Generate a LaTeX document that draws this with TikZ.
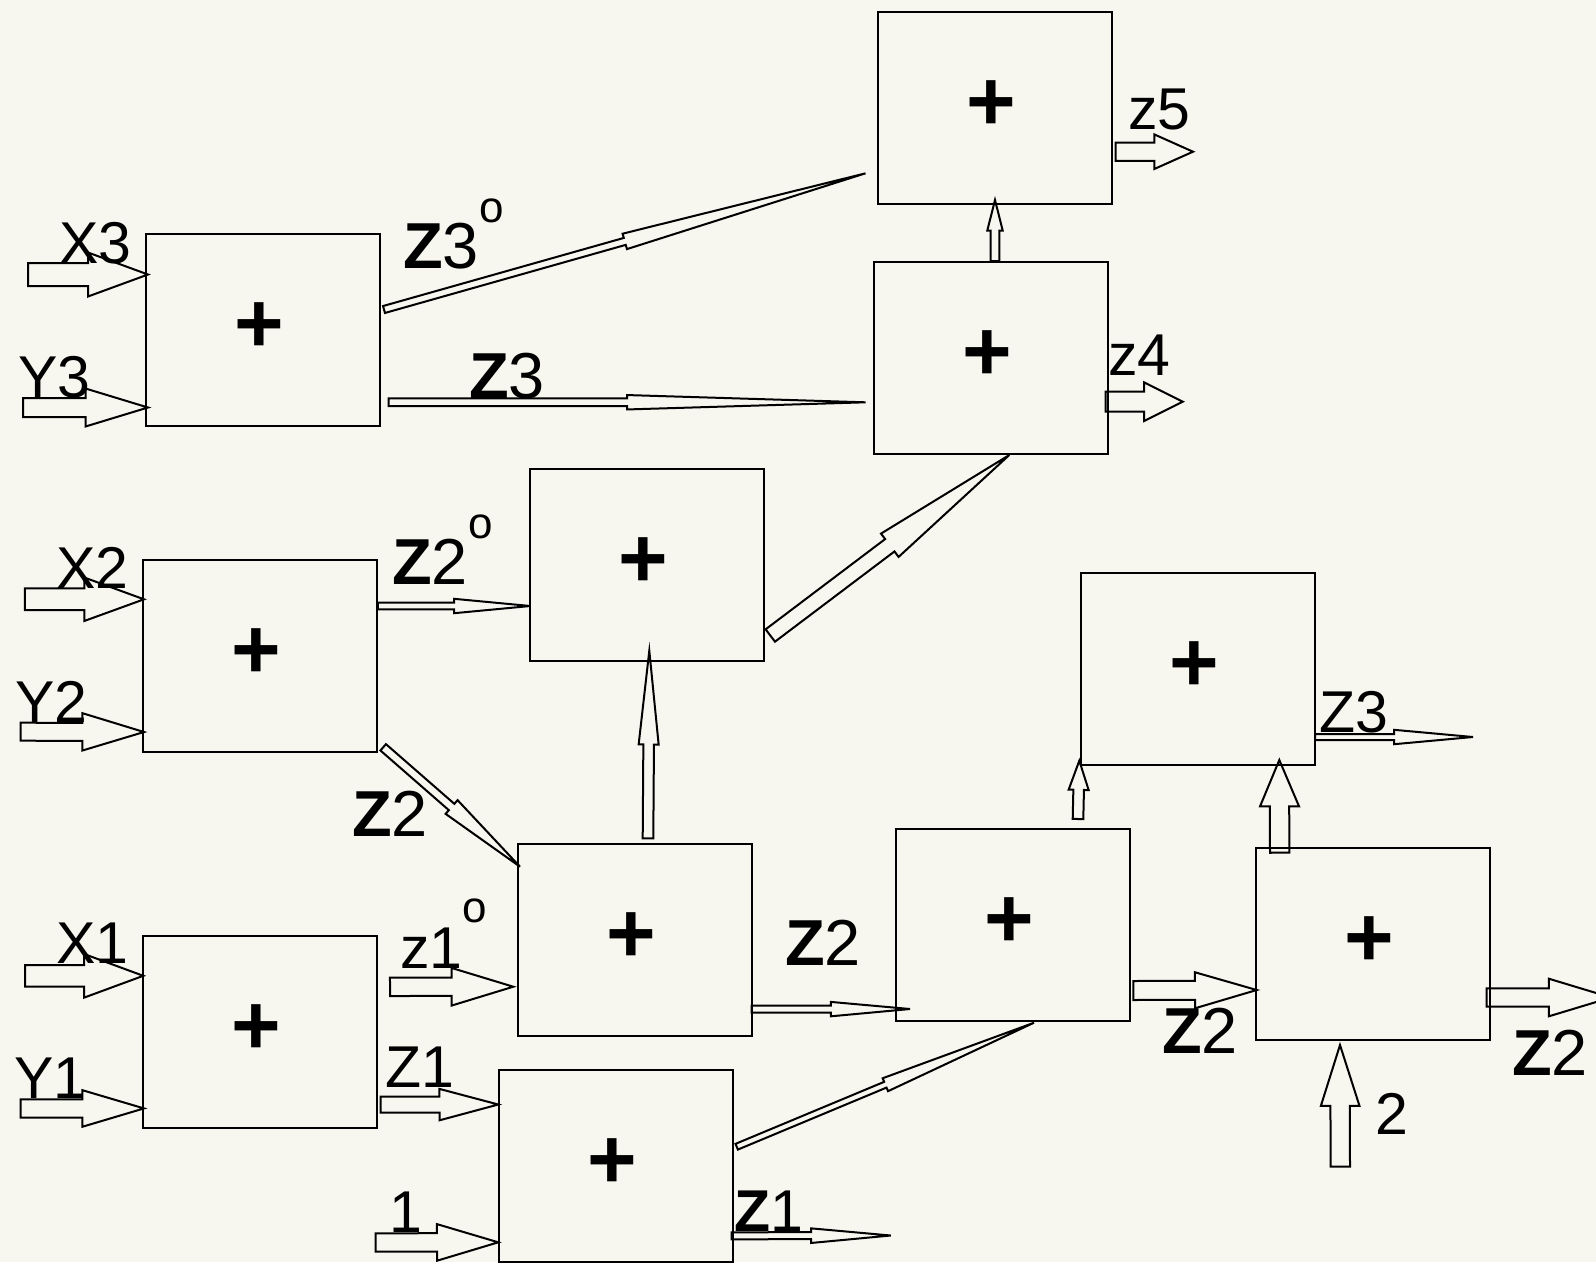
\documentclass[tikz,border=0pt]{standalone}
\usepackage{fontspec}
\setmainfont{Liberation Sans}
\usetikzlibrary{calc}

\definecolor{paper}{RGB}{247,247,240}

\tikzset{
  sumbox/.style={draw, line width=2pt, minimum width=234pt, minimum height=192pt,
    inner sep=0pt, anchor=north west},
  plus/.style={inner sep=0pt, font=\fontsize{85}{85}\selectfont\bfseries},
  blockarrow/.style={draw, line width=2pt},
  lab/.style={inner sep=0pt, anchor=base west, font=\fontsize{59}{60}\selectfont},
  zlab/.style={inner sep=0pt, anchor=base west, font=\fontsize{65}{66}\selectfont},
}

% hollow block arrow: tail, tip, shaft half-width, head half-width (head = half the length)
\newcommand\barrow[4]{%
  \path (#1) -- (#2) coordinate[pos=0.5] (bam);
  \draw[blockarrow]
    ($(#1)!#3pt!90:(#2)$) -- ($(bam)!#3pt!90:(#2)$) -- ($(bam)!#4pt!90:(#2)$)
    -- (#2) -- ($(bam)!#4pt!-90:(#2)$) -- ($(bam)!#3pt!-90:(#2)$)
    -- ($(#1)!#3pt!-90:(#2)$) -- cycle;
}
\newcommand\dego[1]{\raisebox{#1pt}{\fontsize{44}{44}\selectfont o}}

\begin{document}
\begin{tikzpicture}[x=1pt, y=-1pt]
\useasboundingbox (0,0) rectangle (1596,1262);
\clip (0,0) rectangle (1596,1262);
\fill[paper] (0,0) rectangle (1596,1262);

% adder blocks
\node[sumbox] (b1)  at (877,11)   {};
\node[sumbox] (b2)  at (873,261)  {};
\node[sumbox] (b3)  at (145,233)  {};
\node[sumbox] (b4)  at (529,468)  {};
\node[sumbox] (b5)  at (142,559)  {};
\node[sumbox] (b6)  at (1080,572) {};
\node[sumbox] (b7)  at (517,843)  {};
\node[sumbox] (b8)  at (895,828)  {};
\node[sumbox] (b9)  at (1255,847) {};
\node[sumbox] (b10) at (142,935)  {};
\node[sumbox] (b11) at (498,1069) {};
\foreach \b in {b1,b2,b3,b4,b5,b6,b7,b8,b9,b10,b11}
  \node[plus] (p\b) at ($(\b.center)+(-4,-2)$) {+};

% arrow end points
\coordinate (x3s) at (28,274.5);     \coordinate (x3e) at (148,274.5);
\coordinate (y3s) at (23,407.5);     \coordinate (y3e) at (148,407.5);
\coordinate (z3os) at (384,309.5);   \coordinate (z3oe) at (865.5,173.3);
\coordinate (z3s) at (388.6,402.2);  \coordinate (z3e) at (865.5,402.3);
\coordinate (up21s) at (995,261);    \coordinate (up21e) at (995,200);
\coordinate (z4s) at (1105.7,401.7); \coordinate (z4e) at (1182.7,401.7);
\coordinate (z5s) at (1115.6,151.7); \coordinate (z5e) at (1193,151.7);
\coordinate (x2s) at (24.8,599.2);   \coordinate (x2e) at (144,599.3);
\coordinate (y2s) at (20.7,731.7);   \coordinate (y2e) at (144,732);
\coordinate (z2os) at (377.8,606);   \coordinate (z2oe) at (530.3,606);
\coordinate (z2ds) at (383.2,747.3); \coordinate (z2de) at (520,866.7);
\coordinate (d42s) at (770.3,635.5); \coordinate (d42e) at (1009.3,455);
\coordinate (up74s) at (648,838.3);  \coordinate (up74e) at (649.3,650.7);
\coordinate (z1os) at (390,986.8);   \coordinate (z1oe) at (513.3,986.7);
\coordinate (x1s) at (25,975.8);     \coordinate (x1e) at (143.3,975.8);
\coordinate (y1s) at (20.7,1108.5);  \coordinate (y1e) at (144,1108.4);
\coordinate (z1s) at (380.7,1104.7); \coordinate (z1e) at (498.3,1104.5);
\coordinate (ones) at (375.7,1242.5); \coordinate (onee) at (498.3,1242.3);
\coordinate (z1rs) at (731.7,1235.8); \coordinate (z1re) at (890.7,1235.5);
\coordinate (d118s) at (736.7,1146.7); \coordinate (d118e) at (1034,1022.7);
\coordinate (z2ms) at (751.7,1009.2); \coordinate (z2me) at (910,1009);
\coordinate (up86s) at (1078,819);   \coordinate (up86e) at (1079.3,760.7);
\coordinate (up96s) at (1279.7,852.7); \coordinate (up96e) at (1279.3,760);
\coordinate (z3rs) at (1315,737);    \coordinate (z3re) at (1473,737);
\coordinate (z2rs) at (1133.3,990.5); \coordinate (z2re) at (1256.7,990);
\coordinate (z2xs) at (1486.7,997.5); \coordinate (z2xe) at (1611,997.5);
\coordinate (twos) at (1340.3,1166.7); \coordinate (twoe) at (1340,1045);

% block arrows
\barrow{x3s}{x3e}{11.5}{22}
\barrow{y3s}{y3e}{9.5}{19}
\barrow{z3os}{z3oe}{3.6}{8}
\barrow{z3s}{z3e}{3.9}{7.2}
\barrow{up21s}{up21e}{4.3}{7.7}
\barrow{z4s}{z4e}{10}{19.3}
\barrow{z5s}{z5e}{9.2}{17.3}
\barrow{x2s}{x2e}{10.8}{21.7}
\barrow{y2s}{y2e}{9}{18.7}
\barrow{z2os}{z2oe}{3.3}{7.2}
\barrow{z2ds}{z2de}{4.2}{9.1}
\barrow{d42s}{d42e}{7.75}{14.6}
\barrow{up74s}{up74e}{5.3}{10}
\barrow{z1os}{z1oe}{9.2}{18.8}
\barrow{x1s}{x1e}{10.8}{21.8}
\barrow{y1s}{y1e}{9.2}{18.3}
\barrow{z1s}{z1e}{8}{15.7}
\barrow{ones}{onee}{9.2}{18.3}
\barrow{z1rs}{z1re}{3.5}{7.3}
\barrow{d118s}{d118e}{3.1}{7}
\barrow{z2ms}{z2me}{3.5}{7.2}
\barrow{up86s}{up86e}{5.3}{10}
\barrow{up96s}{up96e}{9.7}{19.5}
\barrow{z3rs}{z3re}{3}{7.2}
\barrow{z2rs}{z2re}{9.5}{18}
\barrow{z2xs}{z2xe}{9.2}{18.8}
\barrow{twos}{twoe}{9.7}{19.3}

% signal labels
\node[lab]  (lx3)  at (59,263)      {X3};
\node[lab]  (ly3)  at (18,397)      {Y3};
\node[zlab] (lz3o) at (403,268)     {\textbf{Z}3\dego{46}};
\node[zlab] (lz3)  at (469,398.5)   {\textbf{Z}3};
\node[lab]  (lz5)  at (1128,129.3)  {z5};
\node[lab]  (lz4)  at (1108,375)    {z4};
\node[lab]  (lx2)  at (56,588.3)    {X2};
\node[lab]  (ly2)  at (15,722.7)    {Y2};
\node[zlab] (lz2o) at (392,584)     {\textbf{Z}2\dego{46}};
\node[zlab] (lz2d) at (352,836.7)   {\textbf{Z}2};
\node[lab]  (lz1o) at (400,968.3)   {z1\dego{46}};
\node[lab]  (lx1)  at (56,963.3)    {X1};
\node[lab]  (ly1)  at (14,1098.3)   {Y1};
\node[lab]  (lz1)  at (385,1087.3)  {Z1};
\node[lab]  (lone) at (389,1232.3)  {1};
\node[lab]  (lz1r) at (734,1231.7)  {\textbf{Z}1};
\node[zlab] (lz2m) at (785,965)     {\textbf{Z}2};
\node[lab]  (lz3r) at (1319,732.7)  {Z3};
\node[zlab] (lz2b) at (1162,1053.3) {\textbf{Z}2};
\node[zlab] (lz2x) at (1512,1075)   {\textbf{Z}2};
\node[lab]  (ltwo) at (1375,1134)   {2};
\end{tikzpicture}
\end{document}
